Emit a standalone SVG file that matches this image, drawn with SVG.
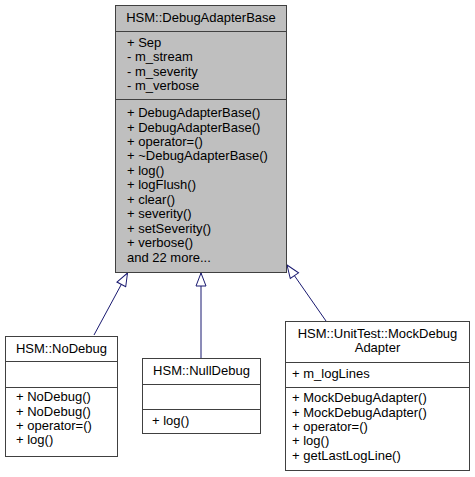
<svg xmlns="http://www.w3.org/2000/svg" width="475" height="477" viewBox="0 0 475 477">
<style>
.box{fill:#ffffff;stroke:#404040;stroke-width:1}
.base{fill:#bfbfbf}
.sep{stroke:#404040;stroke-width:1}
text{font-family:"Liberation Sans",Arial,sans-serif;font-size:13px;fill:#000}
.c{text-anchor:middle}
.edge{stroke:#191970;stroke-width:1;fill:none;marker-end:url(#tri)}
</style>
<defs>
<marker id="tri" markerUnits="userSpaceOnUse" markerWidth="16" markerHeight="12" viewBox="-1 -1 16 12" refX="13" refY="5" orient="auto">
<path d="M0,0 L13,5 L0,10 Z" fill="#ffffff" stroke="#191970" stroke-width="1"/>
</marker>
</defs>
<rect width="475" height="477" fill="#ffffff"/>
<g id="connectors">
<path class="edge" d="M94,335 L127.5,273"/>
<path class="edge" d="M201,358 L201,273"/>
<path class="edge" d="M326,321 L287,265"/>
</g>
<g id="DebugAdapterBase">
<rect class="box base" x="115.5" y="5.5" width="171" height="267"/>
<line class="sep" x1="115.5" y1="31.5" x2="286.5" y2="31.5"/>
<line class="sep" x1="115.5" y1="99.5" x2="286.5" y2="99.5"/>
<text class="c" x="201" y="22">HSM::DebugAdapterBase</text>
<text x="127" y="46.8">+ Sep</text>
<text x="127" y="61.2">- m_stream</text>
<text x="127" y="75.7">- m_severity</text>
<text x="127" y="90.1">- m_verbose</text>
<text x="127" y="117">+ DebugAdapterBase()</text>
<text x="127" y="131.5">+ DebugAdapterBase()</text>
<text x="127" y="145.9">+ operator=()</text>
<text x="127" y="160.4">+ ~DebugAdapterBase()</text>
<text x="127" y="174.8">+ log()</text>
<text x="127" y="189.3">+ logFlush()</text>
<text x="127" y="203.7">+ clear()</text>
<text x="127" y="218.2">+ severity()</text>
<text x="127" y="232.6">+ setSeverity()</text>
<text x="127" y="247.1">+ verbose()</text>
<text x="127" y="261.5">and 22 more...</text>
</g>
<g id="NoDebug">
<rect class="box" x="5.5" y="336.5" width="112" height="120"/>
<line class="sep" x1="5.5" y1="361.5" x2="117.5" y2="361.5"/>
<line class="sep" x1="5.5" y1="387.5" x2="117.5" y2="387.5"/>
<text class="c" x="61.5" y="353">HSM::NoDebug</text>
<text x="16" y="401">+ NoDebug()</text>
<text x="16" y="415.5">+ NoDebug()</text>
<text x="16" y="429.9">+ operator=()</text>
<text x="16" y="444.4">+ log()</text>
</g>
<g id="NullDebug">
<rect class="box" x="142.5" y="358.5" width="118" height="75"/>
<line class="sep" x1="142.5" y1="384.5" x2="260.5" y2="384.5"/>
<line class="sep" x1="142.5" y1="409.5" x2="260.5" y2="409.5"/>
<text class="c" x="201.5" y="375">HSM::NullDebug</text>
<text x="152" y="425">+ log()</text>
</g>
<g id="MockDebugAdapter">
<rect class="box" x="285.5" y="321.5" width="184" height="149"/>
<line class="sep" x1="285.5" y1="362.5" x2="469.5" y2="362.5"/>
<line class="sep" x1="285.5" y1="387.5" x2="469.5" y2="387.5"/>
<text class="c" x="377.5" y="337.7">HSM::UnitTest::MockDebug</text>
<text class="c" x="377.5" y="352.1">Adapter</text>
<text x="292" y="378">+ m_logLines</text>
<text x="292" y="402">+ MockDebugAdapter()</text>
<text x="292" y="416.5">+ MockDebugAdapter()</text>
<text x="292" y="430.9">+ operator=()</text>
<text x="292" y="445.4">+ log()</text>
<text x="292" y="459.8">+ getLastLogLine()</text>
</g>
</svg>
